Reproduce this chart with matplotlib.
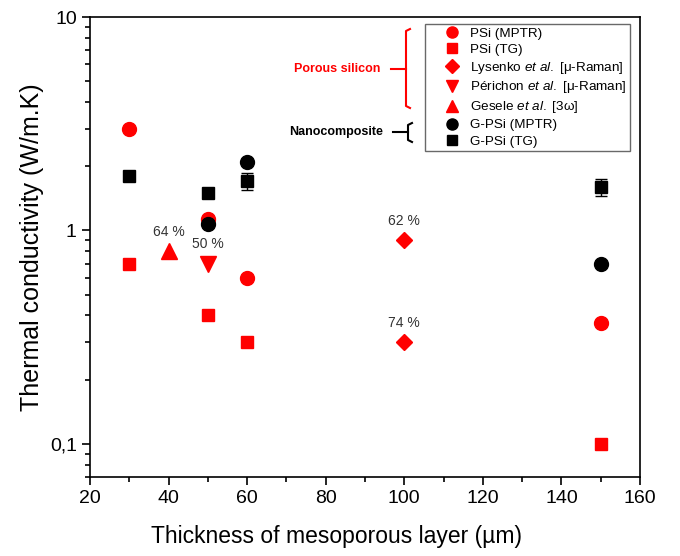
import numpy as np
import matplotlib.pyplot as plt
from matplotlib.ticker import FixedLocator, FixedFormatter, NullFormatter, MultipleLocator

plt.rcParams['font.family'] = ['Liberation Sans', 'DejaVu Sans']
plt.rcParams['mathtext.fontset'] = 'custom'
plt.rcParams['mathtext.rm'] = 'Liberation Sans'
plt.rcParams['mathtext.it'] = 'Liberation Sans:italic'

# data
psi_mptr_x = [30, 50, 60, 150]
psi_mptr_y = [3.0, 1.13, 0.6, 0.37]
psi_tg_x = [30, 50, 60, 150]
psi_tg_y = [0.7, 0.4, 0.3, 0.1]
lysenko_x = [100, 100]
lysenko_y = [0.9, 0.3]
perichon_x = [50]
perichon_y = [0.7]
gesele_x = [40]
gesele_y = [0.8]
gpsi_mptr_x = [50, 60, 150]
gpsi_mptr_y = [1.07, 2.1, 0.7]
gpsi_tg_x = [30, 50, 60, 150]
gpsi_tg_y = [1.8, 1.5, 1.7, 1.6]
gpsi_tg_err = [0.0, 0.08, 0.15, 0.15]

porosity_labels = ['64 %', '50 %', '62 %', '74 %']
porosity_x = [40, 50, 100, 100]
porosity_y = [0.8, 0.7, 0.9, 0.3]

fig = plt.figure(figsize=(6.8, 5.56), dpi=100)
ax = fig.add_axes([90/680, 1-477/556, 550/680, 460/556])

ms = 10
ax.plot(psi_mptr_x, psi_mptr_y, 'o', color='red', ms=ms, ls='none', label='PSi (MPTR)')
ax.plot(psi_tg_x, psi_tg_y, 's', color='red', ms=ms-1, ls='none', label='PSi (TG)')
ax.plot(lysenko_x, lysenko_y, 'D', color='red', ms=ms-1.5, ls='none',
        label='Lysenko $\\it{et\\ al.}$ [\u03bc-Raman]')
ax.plot(perichon_x, perichon_y, 'v', color='red', ms=ms+1, ls='none',
        label='P\u00e9richon $\\it{et\\ al.}$ [\u03bc-Raman]')
ax.plot(gesele_x, gesele_y, '^', color='red', ms=ms+1, ls='none',
        label='Gesele $\\it{et\\ al.}$ [3\u03c9]')
ax.plot(gpsi_mptr_x, gpsi_mptr_y, 'o', color='black', ms=ms, ls='none', label='G-PSi (MPTR)')
ax.errorbar(gpsi_tg_x, gpsi_tg_y, yerr=gpsi_tg_err, fmt='none',
            ecolor='black', elinewidth=1, capsize=4)
ax.plot(gpsi_tg_x, gpsi_tg_y, 's', color='black', ms=ms-1, ls='none', label='G-PSi (TG)')

for lab, x, y in zip(porosity_labels, porosity_x, porosity_y):
    ax.annotate(lab, (x, y), xytext=(0, 9), textcoords='offset points',
                ha='center', va='bottom', fontsize=10, color='#333333')

ax.set_yscale('log')
ax.set_xlim(20, 160)
ax.set_ylim(0.07, 10)
ax.xaxis.set_major_locator(MultipleLocator(20))
ax.xaxis.set_minor_locator(MultipleLocator(10))
ax.yaxis.set_major_locator(FixedLocator([0.1, 1, 10]))
ax.yaxis.set_major_formatter(FixedFormatter(['0,1', '1', '10']))
ax.yaxis.set_minor_locator(FixedLocator([v * d for d in [0.01, 0.1, 1] for v in range(2, 10)]))
ax.yaxis.set_minor_formatter(NullFormatter())
ax.tick_params(which='both', direction='out', top=False, right=False, labelsize=14)
ax.tick_params(which='major', length=6, width=1.2)
ax.tick_params(which='minor', length=3.5, width=1.2)
for s in ax.spines.values():
    s.set_linewidth(1.2)

ax.set_xlabel('Thickness of mesoporous layer (\u00b5m)', fontsize=16.5, labelpad=12)
ax.xaxis.set_label_coords(0.449, -0.105)
ax.set_ylabel('Thermal conductivity (W/m.K)', fontsize=18, labelpad=4)

leg = ax.legend(loc='upper right', bbox_to_anchor=(0.982, 0.985), fontsize=9.7,
                frameon=True, fancybox=False, edgecolor='#444444', borderpad=0.25,
                borderaxespad=0, labelspacing=0.28, handletextpad=-0.4,
                markerscale=0.8, handlelength=3.5)
leg.get_frame().set_linewidth(1)

# brackets grouping the legend entries
def px(x, y):
    return (x - 90) / 550, (477 - y) / 460

def bracket(xv, y0, y1, ym, xl, color):
    pts = [px(xv + 4, y0), px(xv, y0 + 2), px(xv, y1 - 2), px(xv + 4, y1)]
    ax.plot([p[0] for p in pts], [p[1] for p in pts], color=color, lw=1.5,
            transform=ax.transAxes, clip_on=False)
    a, b = px(xl, ym), px(xv, ym)
    ax.plot([a[0], b[0]], [a[1], b[1]], color=color, lw=1.5,
            transform=ax.transAxes, clip_on=False)

bracket(406, 29, 108, 69, 391, 'red')
bracket(408, 123, 142, 132, 393, 'black')
tx, ty = px(337, 69)
ax.text(tx, ty, 'Porous silicon', transform=ax.transAxes, color='red',
        fontsize=9, fontweight='bold', ha='center', va='center')
tx, ty = px(336, 132)
ax.text(tx, ty, 'Nanocomposite', transform=ax.transAxes, color='black',
        fontsize=9, fontweight='bold', ha='center', va='center')

fig.savefig('out.png', dpi=100)
